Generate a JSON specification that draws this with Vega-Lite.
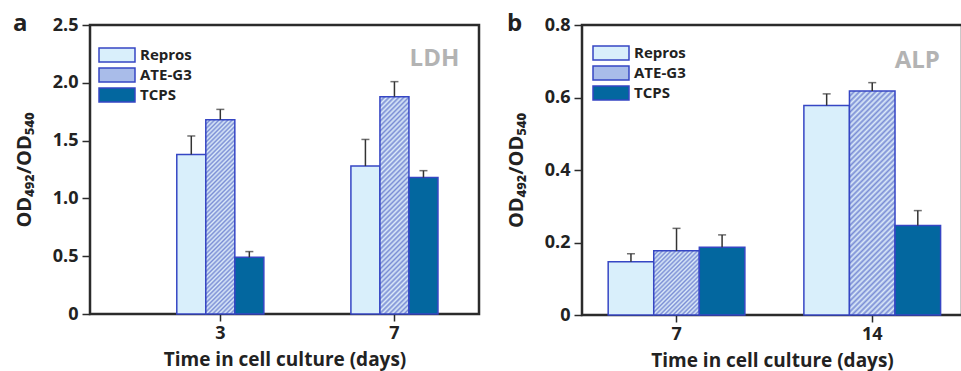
{
  "$schema": "https://vega.github.io/schema/vega-lite/v6.json",
  "background": "white",
  "padding": {"left": 11, "top": 10, "right": 0, "bottom": 0},
  "spacing": 24,
  "resolve": {"scale": {"fill": "independent", "xOffset": "independent"}, "legend": {"fill": "independent"}},
  "config": {
    "font": "Open Sans",
    "view": {"stroke": "#2b2b2b", "strokeWidth": 2.5},
    "axis": {
      "labelFont": "Open Sans", "labelFontWeight": "bold", "labelFontSize": 18, "labelColor": "#222",
      "titleFont": "Open Sans", "titleFontWeight": "bold", "titleFontSize": 20, "titleColor": "#222",
      "domainColor": "#2b2b2b", "domainWidth": 2.5, "tickColor": "#2b2b2b", "tickWidth": 1.5, "grid": false
    },
    "legend": {
      "labelFont": "Open Sans", "labelFontWeight": "bold", "labelFontSize": 15, "labelColor": "#222",
      "symbolType": "M-2.571,-1H2.571V1H-2.571Z", "symbolSize": 196, "symbolStrokeColor": "#3646c4", "symbolStrokeWidth": 1.5,
      "labelOffset": 15, "rowPadding": 0, "padding": 0
    }
  },
  "hconcat": [
    {
      "width": 389, "height": 289,
      "title": {"text": "a", "anchor": "start", "frame": "group", "dx": -77, "offset": -20, "fontSize": 24, "font": "Open Sans", "fontWeight": "bold", "color": "#222"},
      "data": {"values": [
        {"day": "3", "series": "Repros", "value": 1.38, "upper": 1.54},
        {"day": "3", "series": "ATE-G3", "value": 1.68, "upper": 1.77},
        {"day": "3", "series": "TCPS", "value": 0.49, "upper": 0.54},
        {"day": "7", "series": "Repros", "value": 1.28, "upper": 1.51},
        {"day": "7", "series": "ATE-G3", "value": 1.88, "upper": 2.01},
        {"day": "7", "series": "TCPS", "value": 1.18, "upper": 1.24}
      ]},
      "encoding": {
        "x": {"field": "day", "type": "ordinal", "sort": ["3", "7"],
          "scale": {"paddingInner": 0.5, "paddingOuter": 0.367, "align": 0.679},
          "axis": {"title": "Time in cell culture (days)", "titleFontSize": 19, "labelAngle": 0, "tickSize": 7, "labelPadding": 3, "titlePadding": 8, "domain": false}}
      },
      "layer": [
        {
          "mark": {"type": "bar", "stroke": "#3646c4", "strokeWidth": 1.5},
          "encoding": {
            "xOffset": {"field": "series", "type": "nominal", "sort": ["Repros", "ATE-G3", "TCPS"], "scale": {"paddingInner": 0, "paddingOuter": 0}},
            "y": {"field": "value", "type": "quantitative", "scale": {"domain": [0, 2.5], "nice": false},
              "axis": {"title": "OD₄₉₂/OD₅₄₀", "values": [0, 0.25, 0.5, 0.75, 1, 1.25, 1.5, 1.75, 2, 2.25, 2.5],
                "labelExpr": "abs(datum.value*2 - round(datum.value*2)) < 0.001 ? (datum.value == 0 ? '0' : format(datum.value, '.1f')) : ''",
                "tickSize": {"condition": {"test": "abs(datum.value*2 - round(datum.value*2)) < 0.001", "value": 8}, "value": 4},
                "labelPadding": 4, "titlePadding": 18, "domain": false}},
            "fill": {
              "condition": [
                {"test": "datum.series === 'ATE-G3' && datum.day === '3'", "value": {"gradient": "linear", "x1": 0, "y1": 0, "x2": 0.1685, "y2": 1.1246, "stops": [
{"offset":0,"color":"#7a8dd5"},{"offset":0.01,"color":"#dcebf9"},{"offset":0.02,"color":"#7a8dd5"},{"offset":0.03,"color":"#dcebf9"},{"offset":0.04,"color":"#7a8dd5"},{"offset":0.05,"color":"#dcebf9"},{"offset":0.06,"color":"#7a8dd5"},{"offset":0.07,"color":"#dcebf9"},{"offset":0.08,"color":"#7a8dd5"},{"offset":0.09,"color":"#dcebf9"},
{"offset":0.1,"color":"#7a8dd5"},{"offset":0.11,"color":"#dcebf9"},{"offset":0.12,"color":"#7a8dd5"},{"offset":0.13,"color":"#dcebf9"},{"offset":0.14,"color":"#7a8dd5"},{"offset":0.15,"color":"#dcebf9"},{"offset":0.16,"color":"#7a8dd5"},{"offset":0.17,"color":"#dcebf9"},{"offset":0.18,"color":"#7a8dd5"},{"offset":0.19,"color":"#dcebf9"},
{"offset":0.2,"color":"#7a8dd5"},{"offset":0.21,"color":"#dcebf9"},{"offset":0.22,"color":"#7a8dd5"},{"offset":0.23,"color":"#dcebf9"},{"offset":0.24,"color":"#7a8dd5"},{"offset":0.25,"color":"#dcebf9"},{"offset":0.26,"color":"#7a8dd5"},{"offset":0.27,"color":"#dcebf9"},{"offset":0.28,"color":"#7a8dd5"},{"offset":0.29,"color":"#dcebf9"},
{"offset":0.3,"color":"#7a8dd5"},{"offset":0.31,"color":"#dcebf9"},{"offset":0.32,"color":"#7a8dd5"},{"offset":0.33,"color":"#dcebf9"},{"offset":0.34,"color":"#7a8dd5"},{"offset":0.35,"color":"#dcebf9"},{"offset":0.36,"color":"#7a8dd5"},{"offset":0.37,"color":"#dcebf9"},{"offset":0.38,"color":"#7a8dd5"},{"offset":0.39,"color":"#dcebf9"},
{"offset":0.4,"color":"#7a8dd5"},{"offset":0.41,"color":"#dcebf9"},{"offset":0.42,"color":"#7a8dd5"},{"offset":0.43,"color":"#dcebf9"},{"offset":0.44,"color":"#7a8dd5"},{"offset":0.45,"color":"#dcebf9"},{"offset":0.46,"color":"#7a8dd5"},{"offset":0.47,"color":"#dcebf9"},{"offset":0.48,"color":"#7a8dd5"},{"offset":0.49,"color":"#dcebf9"},
{"offset":0.5,"color":"#7a8dd5"},{"offset":0.51,"color":"#dcebf9"},{"offset":0.52,"color":"#7a8dd5"},{"offset":0.53,"color":"#dcebf9"},{"offset":0.54,"color":"#7a8dd5"},{"offset":0.55,"color":"#dcebf9"},{"offset":0.56,"color":"#7a8dd5"},{"offset":0.57,"color":"#dcebf9"},{"offset":0.58,"color":"#7a8dd5"},{"offset":0.59,"color":"#dcebf9"},
{"offset":0.6,"color":"#7a8dd5"},{"offset":0.61,"color":"#dcebf9"},{"offset":0.62,"color":"#7a8dd5"},{"offset":0.63,"color":"#dcebf9"},{"offset":0.64,"color":"#7a8dd5"},{"offset":0.65,"color":"#dcebf9"},{"offset":0.66,"color":"#7a8dd5"},{"offset":0.67,"color":"#dcebf9"},{"offset":0.68,"color":"#7a8dd5"},{"offset":0.69,"color":"#dcebf9"},
{"offset":0.7,"color":"#7a8dd5"},{"offset":0.71,"color":"#dcebf9"},{"offset":0.72,"color":"#7a8dd5"},{"offset":0.73,"color":"#dcebf9"},{"offset":0.74,"color":"#7a8dd5"},{"offset":0.75,"color":"#dcebf9"},{"offset":0.76,"color":"#7a8dd5"},{"offset":0.77,"color":"#dcebf9"},{"offset":0.78,"color":"#7a8dd5"},{"offset":0.79,"color":"#dcebf9"},
{"offset":0.8,"color":"#7a8dd5"},{"offset":0.81,"color":"#dcebf9"},{"offset":0.82,"color":"#7a8dd5"},{"offset":0.83,"color":"#dcebf9"},{"offset":0.84,"color":"#7a8dd5"},{"offset":0.85,"color":"#dcebf9"},{"offset":0.86,"color":"#7a8dd5"},{"offset":0.87,"color":"#dcebf9"},{"offset":0.88,"color":"#7a8dd5"},{"offset":0.89,"color":"#dcebf9"},
{"offset":0.9,"color":"#7a8dd5"},{"offset":0.91,"color":"#dcebf9"},{"offset":0.92,"color":"#7a8dd5"},{"offset":0.93,"color":"#dcebf9"},{"offset":0.94,"color":"#7a8dd5"},{"offset":0.95,"color":"#dcebf9"},{"offset":0.96,"color":"#7a8dd5"},{"offset":0.97,"color":"#dcebf9"},{"offset":0.98,"color":"#7a8dd5"},{"offset":0.99,"color":"#dcebf9"},
{"offset":1,"color":"#7a8dd5"}]}},
                {"test": "datum.series === 'ATE-G3' && datum.day === '7'", "value": {"gradient": "linear", "x1": 0, "y1": 0, "x2": 0.1492, "y2": 1.1139, "stops": [
{"offset":0,"color":"#7a8dd5"},{"offset":0.01,"color":"#dcebf9"},{"offset":0.02,"color":"#7a8dd5"},{"offset":0.03,"color":"#dcebf9"},{"offset":0.04,"color":"#7a8dd5"},{"offset":0.05,"color":"#dcebf9"},{"offset":0.06,"color":"#7a8dd5"},{"offset":0.07,"color":"#dcebf9"},{"offset":0.08,"color":"#7a8dd5"},{"offset":0.09,"color":"#dcebf9"},
{"offset":0.1,"color":"#7a8dd5"},{"offset":0.11,"color":"#dcebf9"},{"offset":0.12,"color":"#7a8dd5"},{"offset":0.13,"color":"#dcebf9"},{"offset":0.14,"color":"#7a8dd5"},{"offset":0.15,"color":"#dcebf9"},{"offset":0.16,"color":"#7a8dd5"},{"offset":0.17,"color":"#dcebf9"},{"offset":0.18,"color":"#7a8dd5"},{"offset":0.19,"color":"#dcebf9"},
{"offset":0.2,"color":"#7a8dd5"},{"offset":0.21,"color":"#dcebf9"},{"offset":0.22,"color":"#7a8dd5"},{"offset":0.23,"color":"#dcebf9"},{"offset":0.24,"color":"#7a8dd5"},{"offset":0.25,"color":"#dcebf9"},{"offset":0.26,"color":"#7a8dd5"},{"offset":0.27,"color":"#dcebf9"},{"offset":0.28,"color":"#7a8dd5"},{"offset":0.29,"color":"#dcebf9"},
{"offset":0.3,"color":"#7a8dd5"},{"offset":0.31,"color":"#dcebf9"},{"offset":0.32,"color":"#7a8dd5"},{"offset":0.33,"color":"#dcebf9"},{"offset":0.34,"color":"#7a8dd5"},{"offset":0.35,"color":"#dcebf9"},{"offset":0.36,"color":"#7a8dd5"},{"offset":0.37,"color":"#dcebf9"},{"offset":0.38,"color":"#7a8dd5"},{"offset":0.39,"color":"#dcebf9"},
{"offset":0.4,"color":"#7a8dd5"},{"offset":0.41,"color":"#dcebf9"},{"offset":0.42,"color":"#7a8dd5"},{"offset":0.43,"color":"#dcebf9"},{"offset":0.44,"color":"#7a8dd5"},{"offset":0.45,"color":"#dcebf9"},{"offset":0.46,"color":"#7a8dd5"},{"offset":0.47,"color":"#dcebf9"},{"offset":0.48,"color":"#7a8dd5"},{"offset":0.49,"color":"#dcebf9"},
{"offset":0.5,"color":"#7a8dd5"},{"offset":0.51,"color":"#dcebf9"},{"offset":0.52,"color":"#7a8dd5"},{"offset":0.53,"color":"#dcebf9"},{"offset":0.54,"color":"#7a8dd5"},{"offset":0.55,"color":"#dcebf9"},{"offset":0.56,"color":"#7a8dd5"},{"offset":0.57,"color":"#dcebf9"},{"offset":0.58,"color":"#7a8dd5"},{"offset":0.59,"color":"#dcebf9"},
{"offset":0.6,"color":"#7a8dd5"},{"offset":0.61,"color":"#dcebf9"},{"offset":0.62,"color":"#7a8dd5"},{"offset":0.63,"color":"#dcebf9"},{"offset":0.64,"color":"#7a8dd5"},{"offset":0.65,"color":"#dcebf9"},{"offset":0.66,"color":"#7a8dd5"},{"offset":0.67,"color":"#dcebf9"},{"offset":0.68,"color":"#7a8dd5"},{"offset":0.69,"color":"#dcebf9"},
{"offset":0.7,"color":"#7a8dd5"},{"offset":0.71,"color":"#dcebf9"},{"offset":0.72,"color":"#7a8dd5"},{"offset":0.73,"color":"#dcebf9"},{"offset":0.74,"color":"#7a8dd5"},{"offset":0.75,"color":"#dcebf9"},{"offset":0.76,"color":"#7a8dd5"},{"offset":0.77,"color":"#dcebf9"},{"offset":0.78,"color":"#7a8dd5"},{"offset":0.79,"color":"#dcebf9"},
{"offset":0.8,"color":"#7a8dd5"},{"offset":0.81,"color":"#dcebf9"},{"offset":0.82,"color":"#7a8dd5"},{"offset":0.83,"color":"#dcebf9"},{"offset":0.84,"color":"#7a8dd5"},{"offset":0.85,"color":"#dcebf9"},{"offset":0.86,"color":"#7a8dd5"},{"offset":0.87,"color":"#dcebf9"},{"offset":0.88,"color":"#7a8dd5"},{"offset":0.89,"color":"#dcebf9"},
{"offset":0.9,"color":"#7a8dd5"},{"offset":0.91,"color":"#dcebf9"},{"offset":0.92,"color":"#7a8dd5"},{"offset":0.93,"color":"#dcebf9"},{"offset":0.94,"color":"#7a8dd5"},{"offset":0.95,"color":"#dcebf9"},{"offset":0.96,"color":"#7a8dd5"},{"offset":0.97,"color":"#dcebf9"},{"offset":0.98,"color":"#7a8dd5"},{"offset":0.99,"color":"#dcebf9"},
{"offset":1,"color":"#7a8dd5"}]}}
              ],
              "field": "series", "type": "nominal", "sort": ["Repros", "ATE-G3", "TCPS"],
              "scale": {"domain": ["Repros", "ATE-G3", "TCPS"], "range": ["#d9effb", "#a9bce9", "#03679f"]},
              "legend": {"title": null, "orient": "none", "legendX": 19, "legendY": 22,
                "encode": {"symbols": {"update": {
                  "stroke": {"value": "#3646c4"}, "strokeWidth": {"value": 1.5},
                  "fill": [
                  {"test": "datum.label === 'ATE-G3'", "value": {"gradient": "linear", "x1": 0, "y1": 0, "x2": 1.2064, "y2": 0.4692, "stops": [
{"offset":0,"color":"#7a8dd5"},{"offset":0.04,"color":"#dcebf9"},{"offset":0.08,"color":"#7a8dd5"},{"offset":0.12,"color":"#dcebf9"},{"offset":0.16,"color":"#7a8dd5"},{"offset":0.2,"color":"#dcebf9"},{"offset":0.24,"color":"#7a8dd5"},{"offset":0.28,"color":"#dcebf9"},{"offset":0.32,"color":"#7a8dd5"},{"offset":0.36,"color":"#dcebf9"},
{"offset":0.4,"color":"#7a8dd5"},{"offset":0.44,"color":"#dcebf9"},{"offset":0.48,"color":"#7a8dd5"},{"offset":0.52,"color":"#dcebf9"},{"offset":0.56,"color":"#7a8dd5"},{"offset":0.6,"color":"#dcebf9"},{"offset":0.64,"color":"#7a8dd5"},{"offset":0.68,"color":"#dcebf9"},{"offset":0.72,"color":"#7a8dd5"},{"offset":0.76,"color":"#dcebf9"},
{"offset":0.8,"color":"#7a8dd5"},{"offset":0.84,"color":"#dcebf9"},{"offset":0.88,"color":"#7a8dd5"},{"offset":0.92,"color":"#dcebf9"},{"offset":0.96,"color":"#7a8dd5"},{"offset":1,"color":"#dcebf9"}]}},
                  {"test": "datum.label === 'Repros'", "value": "#d9effb"},
                  {"value": "#03679f"}
                ]}}}}}
          }
        },
        {
          "mark": {"type": "rule", "color": "#333", "strokeWidth": 1.5},
          "encoding": {
            "xOffset": {"field": "series", "type": "nominal", "sort": ["Repros", "ATE-G3", "TCPS"], "scale": {"paddingInner": 0, "paddingOuter": 0}},
            "y": {"field": "value", "type": "quantitative"},
            "y2": {"field": "upper"}
          }
        },
        {
          "mark": {"type": "tick", "color": "#333", "thickness": 1.5, "size": 8, "orient": "horizontal"},
          "encoding": {
            "xOffset": {"field": "series", "type": "nominal", "sort": ["Repros", "ATE-G3", "TCPS"], "scale": {"paddingInner": 0, "paddingOuter": 0}},
            "y": {"field": "upper", "type": "quantitative"}
          }
        },
        {
          "data": {"values": [{"day": "7", "value": 2.21, "label": "LDH"}]},
          "mark": {"type": "text", "font": "Open Sans", "fontWeight": "bold", "fontSize": 24, "color": "#b3b3b3", "dx": 40},
          "encoding": {"y": {"field": "value", "type": "quantitative"}, "text": {"field": "label"}}
        }
      ]
    },
    {
      "width": 380, "height": 290,
      "title": {"text": "b", "anchor": "start", "frame": "group", "dx": -75, "offset": -20, "fontSize": 24, "font": "Open Sans", "fontWeight": "bold", "color": "#222"},
      "data": {"values": [
        {"day": "7", "series": "Repros", "value": 0.147, "upper": 0.169},
        {"day": "7", "series": "ATE-G3", "value": 0.177, "upper": 0.239},
        {"day": "7", "series": "TCPS", "value": 0.187, "upper": 0.221},
        {"day": "14", "series": "Repros", "value": 0.578, "upper": 0.61},
        {"day": "14", "series": "ATE-G3", "value": 0.618, "upper": 0.641},
        {"day": "14", "series": "TCPS", "value": 0.247, "upper": 0.288}
      ]},
      "encoding": {
        "x": {"field": "day", "type": "ordinal", "sort": ["7", "14"],
          "scale": {"paddingInner": 0.3015, "paddingOuter": 0.1216, "align": 0.55},
          "axis": {"title": "Time in cell culture (days)", "titleFontSize": 19, "labelAngle": 0, "tickSize": 7, "labelPadding": 3, "titlePadding": 8, "domain": false}}
      },
      "layer": [
        {
          "mark": {"type": "bar", "stroke": "#3646c4", "strokeWidth": 1.5},
          "encoding": {
            "xOffset": {"field": "series", "type": "nominal", "sort": ["Repros", "ATE-G3", "TCPS"], "scale": {"paddingInner": 0, "paddingOuter": 0}},
            "y": {"field": "value", "type": "quantitative", "scale": {"domain": [0, 0.8], "nice": false},
              "axis": {"title": "OD₄₉₂/OD₅₄₀", "values": [0, 0.1, 0.2, 0.3, 0.4, 0.5, 0.6, 0.7, 0.8],
                "labelExpr": "abs(datum.value*5 - round(datum.value*5)) < 0.001 ? (datum.value == 0 ? '0' : format(datum.value, '.1f')) : ''",
                "tickSize": {"condition": {"test": "abs(datum.value*5 - round(datum.value*5)) < 0.001", "value": 8}, "value": 4},
                "labelPadding": 4, "titlePadding": 18, "domain": false}},
            "fill": {
              "condition": [
                {"test": "datum.series === 'ATE-G3' && datum.day === '7'", "value": {"gradient": "linear", "x1": 0, "y1": 0, "x2": 0.8074, "y2": 1.1368, "stops": [
{"offset":0,"color":"#7a8dd5"},{"offset":0.02,"color":"#dcebf9"},{"offset":0.04,"color":"#7a8dd5"},{"offset":0.06,"color":"#dcebf9"},{"offset":0.08,"color":"#7a8dd5"},{"offset":0.1,"color":"#dcebf9"},{"offset":0.12,"color":"#7a8dd5"},{"offset":0.14,"color":"#dcebf9"},{"offset":0.16,"color":"#7a8dd5"},{"offset":0.18,"color":"#dcebf9"},
{"offset":0.2,"color":"#7a8dd5"},{"offset":0.22,"color":"#dcebf9"},{"offset":0.24,"color":"#7a8dd5"},{"offset":0.26,"color":"#dcebf9"},{"offset":0.28,"color":"#7a8dd5"},{"offset":0.3,"color":"#dcebf9"},{"offset":0.32,"color":"#7a8dd5"},{"offset":0.34,"color":"#dcebf9"},{"offset":0.36,"color":"#7a8dd5"},{"offset":0.38,"color":"#dcebf9"},
{"offset":0.4,"color":"#7a8dd5"},{"offset":0.42,"color":"#dcebf9"},{"offset":0.44,"color":"#7a8dd5"},{"offset":0.46,"color":"#dcebf9"},{"offset":0.48,"color":"#7a8dd5"},{"offset":0.5,"color":"#dcebf9"},{"offset":0.52,"color":"#7a8dd5"},{"offset":0.54,"color":"#dcebf9"},{"offset":0.56,"color":"#7a8dd5"},{"offset":0.58,"color":"#dcebf9"},
{"offset":0.6,"color":"#7a8dd5"},{"offset":0.62,"color":"#dcebf9"},{"offset":0.64,"color":"#7a8dd5"},{"offset":0.66,"color":"#dcebf9"},{"offset":0.68,"color":"#7a8dd5"},{"offset":0.7,"color":"#dcebf9"},{"offset":0.72,"color":"#7a8dd5"},{"offset":0.74,"color":"#dcebf9"},{"offset":0.76,"color":"#7a8dd5"},{"offset":0.78,"color":"#dcebf9"},
{"offset":0.8,"color":"#7a8dd5"},{"offset":0.82,"color":"#dcebf9"},{"offset":0.84,"color":"#7a8dd5"},{"offset":0.86,"color":"#dcebf9"},{"offset":0.88,"color":"#7a8dd5"},{"offset":0.9,"color":"#dcebf9"},{"offset":0.92,"color":"#7a8dd5"},{"offset":0.94,"color":"#dcebf9"},{"offset":0.96,"color":"#7a8dd5"},{"offset":0.98,"color":"#dcebf9"},
{"offset":1,"color":"#7a8dd5"}]}},
                {"test": "datum.series === 'ATE-G3' && datum.day === '14'", "value": {"gradient": "linear", "x1": 0, "y1": 0, "x2": 0.2353, "y2": 1.1557, "stops": [
{"offset":0,"color":"#7a8dd5"},{"offset":0.01,"color":"#dcebf9"},{"offset":0.02,"color":"#7a8dd5"},{"offset":0.03,"color":"#dcebf9"},{"offset":0.04,"color":"#7a8dd5"},{"offset":0.05,"color":"#dcebf9"},{"offset":0.06,"color":"#7a8dd5"},{"offset":0.07,"color":"#dcebf9"},{"offset":0.08,"color":"#7a8dd5"},{"offset":0.09,"color":"#dcebf9"},
{"offset":0.1,"color":"#7a8dd5"},{"offset":0.11,"color":"#dcebf9"},{"offset":0.12,"color":"#7a8dd5"},{"offset":0.13,"color":"#dcebf9"},{"offset":0.14,"color":"#7a8dd5"},{"offset":0.15,"color":"#dcebf9"},{"offset":0.16,"color":"#7a8dd5"},{"offset":0.17,"color":"#dcebf9"},{"offset":0.18,"color":"#7a8dd5"},{"offset":0.19,"color":"#dcebf9"},
{"offset":0.2,"color":"#7a8dd5"},{"offset":0.21,"color":"#dcebf9"},{"offset":0.22,"color":"#7a8dd5"},{"offset":0.23,"color":"#dcebf9"},{"offset":0.24,"color":"#7a8dd5"},{"offset":0.25,"color":"#dcebf9"},{"offset":0.26,"color":"#7a8dd5"},{"offset":0.27,"color":"#dcebf9"},{"offset":0.28,"color":"#7a8dd5"},{"offset":0.29,"color":"#dcebf9"},
{"offset":0.3,"color":"#7a8dd5"},{"offset":0.31,"color":"#dcebf9"},{"offset":0.32,"color":"#7a8dd5"},{"offset":0.33,"color":"#dcebf9"},{"offset":0.34,"color":"#7a8dd5"},{"offset":0.35,"color":"#dcebf9"},{"offset":0.36,"color":"#7a8dd5"},{"offset":0.37,"color":"#dcebf9"},{"offset":0.38,"color":"#7a8dd5"},{"offset":0.39,"color":"#dcebf9"},
{"offset":0.4,"color":"#7a8dd5"},{"offset":0.41,"color":"#dcebf9"},{"offset":0.42,"color":"#7a8dd5"},{"offset":0.43,"color":"#dcebf9"},{"offset":0.44,"color":"#7a8dd5"},{"offset":0.45,"color":"#dcebf9"},{"offset":0.46,"color":"#7a8dd5"},{"offset":0.47,"color":"#dcebf9"},{"offset":0.48,"color":"#7a8dd5"},{"offset":0.49,"color":"#dcebf9"},
{"offset":0.5,"color":"#7a8dd5"},{"offset":0.51,"color":"#dcebf9"},{"offset":0.52,"color":"#7a8dd5"},{"offset":0.53,"color":"#dcebf9"},{"offset":0.54,"color":"#7a8dd5"},{"offset":0.55,"color":"#dcebf9"},{"offset":0.56,"color":"#7a8dd5"},{"offset":0.57,"color":"#dcebf9"},{"offset":0.58,"color":"#7a8dd5"},{"offset":0.59,"color":"#dcebf9"},
{"offset":0.6,"color":"#7a8dd5"},{"offset":0.61,"color":"#dcebf9"},{"offset":0.62,"color":"#7a8dd5"},{"offset":0.63,"color":"#dcebf9"},{"offset":0.64,"color":"#7a8dd5"},{"offset":0.65,"color":"#dcebf9"},{"offset":0.66,"color":"#7a8dd5"},{"offset":0.67,"color":"#dcebf9"},{"offset":0.68,"color":"#7a8dd5"},{"offset":0.69,"color":"#dcebf9"},
{"offset":0.7,"color":"#7a8dd5"},{"offset":0.71,"color":"#dcebf9"},{"offset":0.72,"color":"#7a8dd5"},{"offset":0.73,"color":"#dcebf9"},{"offset":0.74,"color":"#7a8dd5"},{"offset":0.75,"color":"#dcebf9"},{"offset":0.76,"color":"#7a8dd5"},{"offset":0.77,"color":"#dcebf9"},{"offset":0.78,"color":"#7a8dd5"},{"offset":0.79,"color":"#dcebf9"},
{"offset":0.8,"color":"#7a8dd5"},{"offset":0.81,"color":"#dcebf9"},{"offset":0.82,"color":"#7a8dd5"},{"offset":0.83,"color":"#dcebf9"},{"offset":0.84,"color":"#7a8dd5"},{"offset":0.85,"color":"#dcebf9"},{"offset":0.86,"color":"#7a8dd5"},{"offset":0.87,"color":"#dcebf9"},{"offset":0.88,"color":"#7a8dd5"},{"offset":0.89,"color":"#dcebf9"},
{"offset":0.9,"color":"#7a8dd5"},{"offset":0.91,"color":"#dcebf9"},{"offset":0.92,"color":"#7a8dd5"},{"offset":0.93,"color":"#dcebf9"},{"offset":0.94,"color":"#7a8dd5"},{"offset":0.95,"color":"#dcebf9"},{"offset":0.96,"color":"#7a8dd5"},{"offset":0.97,"color":"#dcebf9"},{"offset":0.98,"color":"#7a8dd5"},{"offset":0.99,"color":"#dcebf9"},
{"offset":1,"color":"#7a8dd5"}]}}
              ],
              "field": "series", "type": "nominal", "sort": ["Repros", "ATE-G3", "TCPS"],
              "scale": {"domain": ["Repros", "ATE-G3", "TCPS"], "range": ["#d9effb", "#a9bce9", "#03679f"]},
              "legend": {"title": null, "orient": "none", "legendX": 21, "legendY": 20,
                "encode": {"symbols": {"update": {
                  "stroke": {"value": "#3646c4"}, "strokeWidth": {"value": 1.5},
                  "fill": [
                  {"test": "datum.label === 'ATE-G3'", "value": {"gradient": "linear", "x1": 0, "y1": 0, "x2": 1.2064, "y2": 0.4692, "stops": [
{"offset":0,"color":"#7a8dd5"},{"offset":0.04,"color":"#dcebf9"},{"offset":0.08,"color":"#7a8dd5"},{"offset":0.12,"color":"#dcebf9"},{"offset":0.16,"color":"#7a8dd5"},{"offset":0.2,"color":"#dcebf9"},{"offset":0.24,"color":"#7a8dd5"},{"offset":0.28,"color":"#dcebf9"},{"offset":0.32,"color":"#7a8dd5"},{"offset":0.36,"color":"#dcebf9"},
{"offset":0.4,"color":"#7a8dd5"},{"offset":0.44,"color":"#dcebf9"},{"offset":0.48,"color":"#7a8dd5"},{"offset":0.52,"color":"#dcebf9"},{"offset":0.56,"color":"#7a8dd5"},{"offset":0.6,"color":"#dcebf9"},{"offset":0.64,"color":"#7a8dd5"},{"offset":0.68,"color":"#dcebf9"},{"offset":0.72,"color":"#7a8dd5"},{"offset":0.76,"color":"#dcebf9"},
{"offset":0.8,"color":"#7a8dd5"},{"offset":0.84,"color":"#dcebf9"},{"offset":0.88,"color":"#7a8dd5"},{"offset":0.92,"color":"#dcebf9"},{"offset":0.96,"color":"#7a8dd5"},{"offset":1,"color":"#dcebf9"}]}},
                  {"test": "datum.label === 'Repros'", "value": "#d9effb"},
                  {"value": "#03679f"}
                ]}}}}}
          }
        },
        {
          "mark": {"type": "rule", "color": "#333", "strokeWidth": 1.5},
          "encoding": {
            "xOffset": {"field": "series", "type": "nominal", "sort": ["Repros", "ATE-G3", "TCPS"], "scale": {"paddingInner": 0, "paddingOuter": 0}},
            "y": {"field": "value", "type": "quantitative"},
            "y2": {"field": "upper"}
          }
        },
        {
          "mark": {"type": "tick", "color": "#333", "thickness": 1.5, "size": 8, "orient": "horizontal"},
          "encoding": {
            "xOffset": {"field": "series", "type": "nominal", "sort": ["Repros", "ATE-G3", "TCPS"], "scale": {"paddingInner": 0, "paddingOuter": 0}},
            "y": {"field": "upper", "type": "quantitative"}
          }
        },
        {
          "data": {"values": [{"day": "14", "value": 0.70, "label": "ALP"}]},
          "mark": {"type": "text", "font": "Open Sans", "fontWeight": "bold", "fontSize": 24, "color": "#b3b3b3", "dx": 45},
          "encoding": {"y": {"field": "value", "type": "quantitative"}, "text": {"field": "label"}}
        }
      ]
    }
  ]
}
